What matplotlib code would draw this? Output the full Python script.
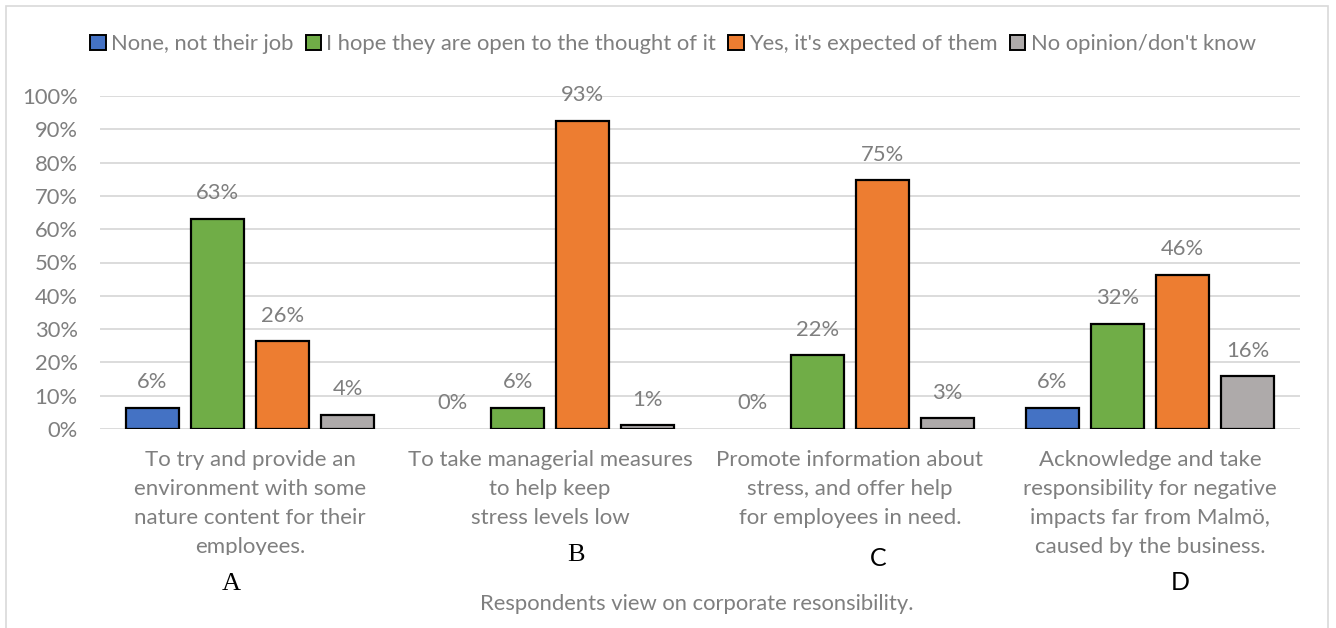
import matplotlib
matplotlib.use("Agg")
import matplotlib.pyplot as plt
from matplotlib.patches import Patch, Rectangle
from matplotlib.transforms import Bbox, blended_transform_factory

# Survey data (share of respondents, %)
categories = ["A", "B", "C", "D"]
category_texts = [
    ["To try and provide an", "environment with some", "nature content for their", "employees."],
    ["To take managerial measures", "to help keep", "stress levels low"],
    ["Promote information about", "stress, and offer help", "for employees in need."],
    ["Acknowledge and take", "responsibility for negative", "impacts far from Malmö,", "caused by the business."],
]
series_names = ["None, not their job", "I hope they are open to the thought of it",
                "Yes, it's expected of them", "No opinion/don't know"]
none_job = [6.3, 0.0, 0.0, 6.3]
hope_open = [63.2, 6.3, 22.1, 31.6]
expected = [26.3, 92.6, 74.7, 46.3]
no_opinion = [4.2, 1.1, 3.2, 15.8]
yticks = list(range(0, 101, 10))
title = "Respondents view on corporate resonsibility."

colors = ["#4472C4", "#70AD47", "#ED7D31", "#AEAAAA"]
text_gray = "#7F7F7F"
FONT = "Lato"
FS = 15.8

W, H = 1336, 628
fig = plt.figure(figsize=(W / 100, H / 100), dpi=100)
fig.patch.set_facecolor("white")

# Chart frame
fig.add_artist(Rectangle((6 / W, -0.05), (1328 - 6) / W, 1.05 - 6 / H,
                         transform=fig.transFigure, fill=False,
                         edgecolor="#D9D9D9", linewidth=1.2))

ax = fig.add_axes([100 / W, 1 - 429 / H, 1200 / W, (429 - 96) / H])
ax.set_xlim(-0.5, 3.5)
ax.set_ylim(0, 100)
for s in ax.spines.values():
    s.set_visible(False)
ax.set_yticks(yticks)
ax.set_yticklabels([f"{t}%" for t in yticks], fontsize=FS, color=text_gray, family=FONT)
ax.tick_params(axis="y", length=0, pad=16)
ax.set_xticks([])
ax.grid(axis="y", color="#D9D9D9", linewidth=1.3)
ax.set_axisbelow(True)

series = [none_job, hope_open, expected, no_opinion]
width = 0.177
offsets = [-0.325, -0.108, 0.108, 0.325]
x = list(range(len(categories)))
for vals, off, col in zip(series, offsets, colors):
    bars = ax.bar([xi + off for xi in x], vals, width=width, color=col,
                  edgecolor="black", linewidth=[1.6 if v > 0 else 0 for v in vals],
                  zorder=3)
    for b, v in zip(bars, vals):
        ax.annotate(f"{round(v)}%", (b.get_x() + b.get_width() / 2, v),
                    xytext=(0, 18.5), textcoords="offset points",
                    ha="center", va="center", fontsize=FS, color=text_gray,
                    family=FONT)

# Category labels under each group; the first label box cuts off its last line
px = blended_transform_factory(ax.transData, fig.transFigure)
line_y = [460, 489, 518, 547]
first_box = Bbox.from_extents(0, H - 555, W, H)
for xi, lines in zip(x, category_texts):
    for k, line in enumerate(lines):
        t = fig.text(xi, 1 - line_y[k] / H, line, transform=px, ha="center",
                     va="center", fontsize=16, color=text_gray, family=FONT)
        if xi == 0:
            t.set_clip_box(first_box)
            t.set_clip_on(True)

# Group letters
letter_pos = [(231, 584, "Liberation Serif", 19), (576, 555, "Liberation Serif", 19),
              (878, 558, FONT, 18), (1180, 583, FONT, 18)]
for letter, (lx, ly, fam, fs) in zip(categories, letter_pos):
    fig.text(lx / W, 1 - ly / H, letter, ha="center", va="center",
             fontsize=fs, color="black", family=fam)

fig.text(697 / W, 1 - 604 / H, title, ha="center", va="center",
         fontsize=FS, color=text_gray, family=FONT)

handles = [Patch(facecolor=c, edgecolor="black", linewidth=1.4) for c in colors]
fig.legend(handles, series_names, loc="center", bbox_to_anchor=(673 / W, 1 - 44 / H),
           ncol=4, frameon=False, handlelength=0.7, handleheight=0.7,
           handletextpad=0.25, columnspacing=0.55,
           prop={"family": FONT, "size": FS}, labelcolor=text_gray)

fig.savefig("out.png", dpi=100)
